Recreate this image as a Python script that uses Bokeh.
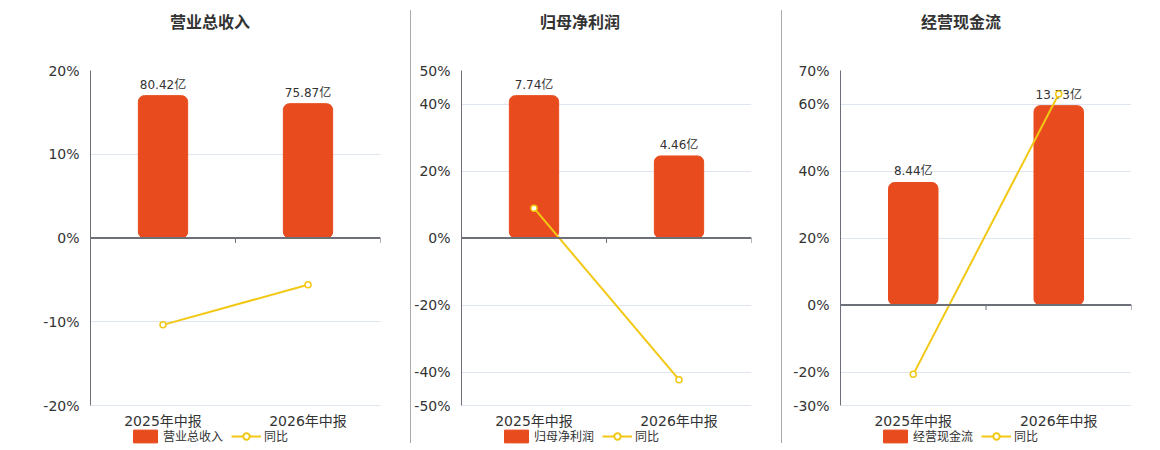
from bokeh.plotting import figure
from bokeh.models import (Range1d, FactorRange, FixedTicker, PrintfTickFormatter, Span,
                          Legend, LegendItem, Div)
from bokeh.layouts import row, column
from bokeh.embed import file_html
from bokeh.resources import INLINE
from bokeh.core.properties import value

# ---------------- data ----------------
periods = ["2025年中报", "2026年中报"]

rev_title = "营业总收入"
rev_values = [80.42, 75.87]
rev_labels = ["80.42亿", "75.87亿"]
rev_yoy = [-10.37, -5.58]
rev_ticks = [-20, -10, 0, 10, 20]

np_title = "归母净利润"
np_values = [7.74, 4.46]
np_labels = ["7.74亿", "4.46亿"]
np_yoy = [8.89, -42.3]
np_ticks = [-50, -40, -20, 0, 20, 40, 50]

cf_title = "经营现金流"
cf_values = [8.44, 13.73]
cf_labels = ["8.44亿", "13.73亿"]
cf_yoy = [-20.7, 63.0]
cf_ticks = [-30, -20, 0, 20, 40, 60, 70]

yoy_name = "同比"

# ---------------- style ----------------
BAR = "#E84C1E"
LINE = "#F2C814"
AXIS = "#6E7079"
GRID = "#E0E6F1"
TXT = "#333333"
FONT = "DejaVu Sans, 'Noto Sans CJK SC', sans-serif"
PLOT_H = 335      # height of the value area
FOOT_H = 40       # room below the value area for category labels + legend
TITLE_H = 46


def make_panel(title, values, labels, yoy, ticks, left, right, fw, title_cx):
    lo, hi = ticks[0], ticks[-1]
    ext = (hi - lo) * FOOT_H / PLOT_H
    bar_top = max(values) / 0.85
    bar_lo = lo / hi * bar_top
    bar_ext = (bar_top - bar_lo) * FOOT_H / PLOT_H

    p = figure(x_range=FactorRange(factors=periods), y_range=Range1d(lo - ext, hi),
               frame_width=fw, frame_height=PLOT_H + FOOT_H,
               min_border_left=left, min_border_right=right,
               min_border_top=70 - TITLE_H, min_border_bottom=0,
               output_backend="svg", toolbar_location=None)
    p.outline_line_color = None
    p.background_fill_color = "white"
    p.extra_y_ranges = {"bars": Range1d(bar_lo - bar_ext, bar_top)}

    # y axis
    p.yaxis.ticker = FixedTicker(ticks=ticks)
    p.yaxis.bounds = (lo, hi)
    p.yaxis.formatter = PrintfTickFormatter(format="%d%%")
    p.yaxis.major_tick_line_color = None
    p.yaxis.minor_tick_line_color = None
    p.yaxis.axis_line_color = AXIS
    p.yaxis.major_label_text_font = FONT
    p.yaxis.major_label_text_font_size = "14px"
    p.yaxis.major_label_text_color = TXT
    p.yaxis.major_label_standoff = 5

    p.xaxis.visible = False
    p.xgrid.visible = False
    p.ygrid.ticker = FixedTicker(ticks=ticks)
    p.ygrid.grid_line_color = GRID

    # category labels under the value area
    p.text(x=periods, y=[lo] * len(periods), text=periods, y_offset=15,
           text_align="center", text_baseline="middle",
           text_font=value(FONT), text_font_size="14px", text_color=TXT)

    # bars
    bars = p.vbar(x=periods, top=values, bottom=0, width=0.34, y_range_name="bars",
                  fill_color=BAR, line_color=BAR, border_radius=6)
    p.text(x=periods, y=values, text=labels, y_range_name="bars",
           text_align="center", text_baseline="bottom", y_offset=-4,
           text_font=value(FONT), text_font_size="12px", text_color=TXT)

    # zero axis line + category boundary ticks
    p.add_layout(Span(location=0, dimension="width", line_color=AXIS, line_width=2))
    bounds = list(range(len(periods) + 1))
    tick_len = (hi - lo) * 5 / PLOT_H
    p.segment(x0=bounds, y0=[0] * len(bounds), x1=bounds, y1=[-tick_len] * len(bounds),
              line_color=AXIS, line_width=1)

    # yoy line
    ln = p.line(x=periods, y=yoy, line_color=LINE, line_width=2)
    p.scatter(x=periods, y=yoy, size=6, fill_color="white", line_color=LINE, line_width=1.5)
    # larger hollow marker used only for the legend swatch (not drawn on the chart)
    swatch = p.scatter(x=periods, y=yoy, size=11, fill_color="white", line_color=LINE,
                       line_width=2, visible=False)

    legend = Legend(items=[LegendItem(label=title, renderers=[bars]),
                           LegendItem(label=yoy_name, renderers=[ln, swatch])],
                    orientation="horizontal", location=(40, 1),
                    border_line_color=None, background_fill_alpha=0,
                    inactive_fill_alpha=0,
                    label_text_font=FONT, label_text_font_size="12px", label_text_color=TXT,
                    glyph_width=30, glyph_height=16, label_height=14, spacing=8,
                    label_standoff=3, padding=0, margin=0)
    p.add_layout(legend)

    fig_w = left + fw + right
    html = (f'<div style="width:{2 * title_cx}px;text-align:center;line-height:{TITLE_H}px;'
            f'font-size:16px;font-weight:bold;color:{TXT};font-family:{FONT};'
            f'white-space:nowrap;">{title}</div>')
    head = Div(text=html, width=fig_w, height=TITLE_H, margin=0,
               styles={"overflow": "visible"})
    return column(head, p, spacing=0)


f1 = make_panel(rev_title, rev_values, rev_labels, rev_yoy, rev_ticks, 90, 30, 290, 210)
f2 = make_panel(np_title, np_values, np_labels, np_yoy, np_ticks, 49, 30, 290, 169)
f3 = make_panel(cf_title, cf_values, cf_labels, cf_yoy, cf_ticks, 58, 20, 291, 179)


def divider():
    return Div(width=1, height=433, margin=(10, 0, 0, 0), styles={"background-color": "#AAAAAA"})


layout = row(f1, divider(), f2, divider(), f3)
open("out.html", "w").write(file_html(layout, INLINE))
